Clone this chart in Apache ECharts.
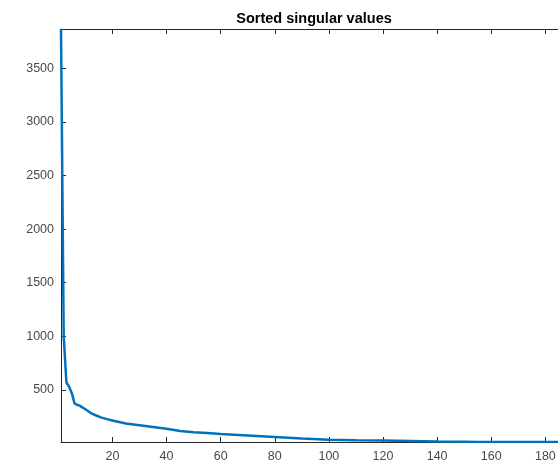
<!DOCTYPE html>
<html>
<head>
<meta charset="utf-8">
<script src="https://cdn.jsdelivr.net/npm/echarts@6/dist/echarts.min.js"></script>
<style>
  html, body { margin: 0; padding: 0; background: #fff; overflow: hidden; }
  #main { width: 558px; height: 466px; }
</style>
</head>
<body>
<div id="main"></div>
<script>
// index of singular value (x) and its size (y)
let idx = [1, 2, 3, 4, 5, 6, 7, 8, 10, 12, 14, 16, 18, 20, 25, 30, 35, 40, 45, 50, 55, 60, 70, 80, 90, 100, 110, 120, 130, 140, 150, 155, 160, 170, 180, 188];
let sv = [3865, 1000, 570, 530, 470, 375, 362, 352, 320, 285, 262, 242, 228, 215, 188, 172, 155, 138, 118, 107, 100, 90, 76, 62, 48, 37, 32, 29, 25, 20, 17, 15, 15, 15, 15, 15];
let xTicks = [20, 40, 60, 80, 100, 120, 140, 160, 180];
let yTicks = [500, 1000, 1500, 2000, 2500, 3000, 3500];

let chart = echarts.init(document.getElementById('main'), null, { renderer: 'canvas' });

let axisColor = '#262626';
let labelFont = { color: '#4a4a4a', fontFamily: 'Liberation Sans', fontSize: 12.5 };
let points = idx.map(function (x, i) { return [x, sv[i]]; });
let plain = function (v) { return String(v); };

let option = {
  animation: false,
  title: {
    text: 'Sorted singular values',
    left: 309,
    textAlign: 'center',
    top: 6,
    textStyle: { fontFamily: 'Liberation Sans', fontSize: 14.5, fontWeight: 'bold', color: '#000' }
  },
  // the axes box runs past the right edge of the picture
  grid: {
    left: 61,
    width: 506,
    top: 29,
    height: 413,
    outerBoundsMode: 'none'
  },
  xAxis: [
    {
      type: 'value',
      min: 1,
      max: 188,
      position: 'bottom',
      splitLine: { show: false },
      axisLine: { onZero: false, lineStyle: { color: axisColor, width: 1 } },
      axisTick: { inside: true, length: 5, customValues: xTicks, lineStyle: { color: axisColor } },
      axisLabel: Object.assign({ customValues: xTicks, margin: 8, formatter: plain }, labelFont)
    },
    {
      type: 'value',
      min: 1,
      max: 188,
      position: 'top',
      splitLine: { show: false },
      axisLine: { onZero: false, lineStyle: { color: axisColor, width: 1 } },
      axisTick: { inside: true, length: 5, customValues: xTicks, lineStyle: { color: axisColor } },
      axisLabel: { show: false }
    }
  ],
  yAxis: {
    type: 'value',
    min: 15,
    max: 3865,
    splitLine: { show: false },
    axisLine: { show: true, onZero: false, lineStyle: { color: axisColor, width: 1 } },
    axisTick: { show: true, inside: true, length: 5, customValues: yTicks, lineStyle: { color: axisColor } },
    axisLabel: Object.assign({ customValues: yTicks, margin: 7, formatter: plain }, labelFont)
  },
  series: [
    {
      type: 'line',
      data: points,
      showSymbol: false,
      smooth: false,
      lineStyle: { color: '#0072BD', width: 2.5 },
      itemStyle: { color: '#0072BD' }
    }
  ]
};

chart.setOption(option);
</script>
</body>
</html>
